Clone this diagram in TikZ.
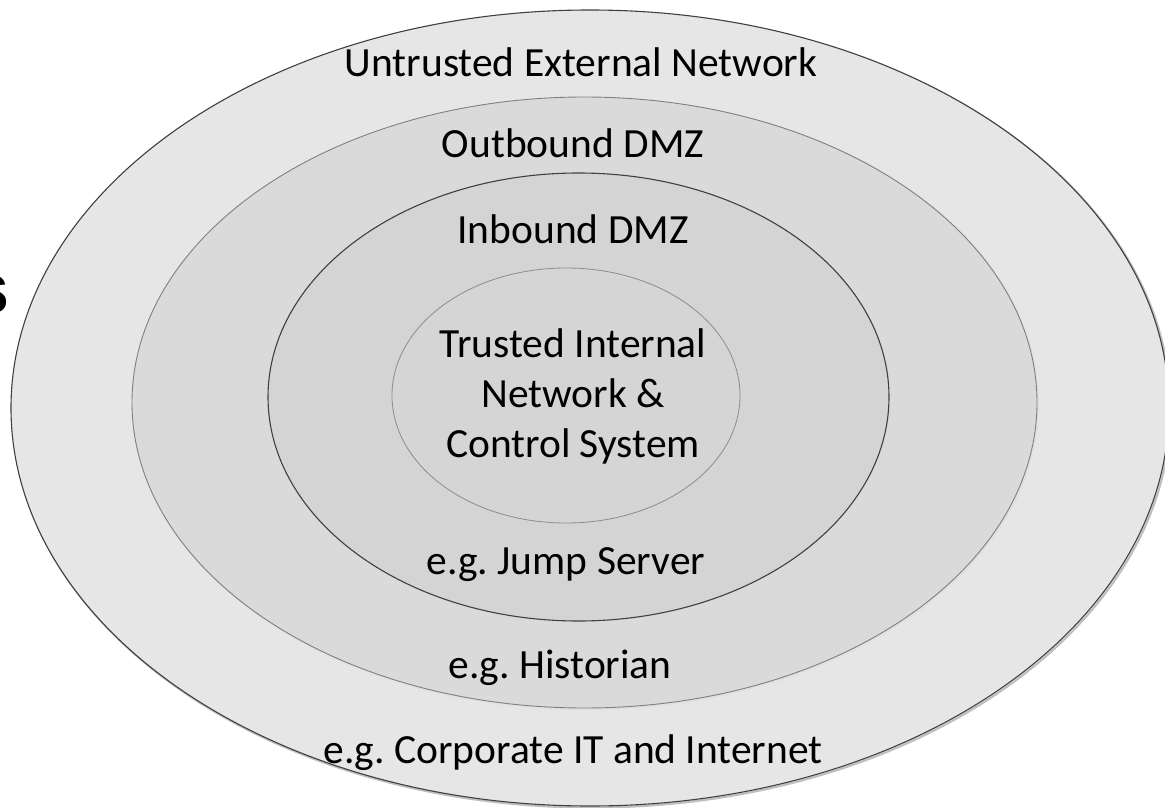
\documentclass[tikz,border=0pt]{standalone}
\usepackage{fontspec}
\setmainfont{Carlito}
\newfontfamily\boldsans{Liberation Sans}[BoldFont=* Bold]
\usetikzlibrary{shapes.geometric}
\definecolor{zoneA}{HTML}{E6E6E6}
\definecolor{zoneB}{HTML}{DADADA}
\definecolor{zoneC}{HTML}{D4D4D4}
\definecolor{zoneD}{HTML}{D5D5D5}
\tikzset{
  zone/.style={ellipse, inner sep=0pt, outer sep=0pt},
  shade/.style={draw=black!25, line width=2.2pt},
  lbl/.style={inner sep=0pt, anchor=base, align=center,
    font=\fontsize{41.5}{50}\selectfont, text=black}
}
\begin{document}
\begin{tikzpicture}[x=1pt,y=-1pt]
\useasboundingbox (0,0) rectangle (1165,808);
\fill[white] (0,0) rectangle (1165,808);
% outer zone
\draw[shade] (591.5,409.5) ellipse [x radius=579pt, y radius=398pt];
\node[zone, fill=zoneA, draw=black!75, line width=1.1pt,
  minimum width=1158pt, minimum height=796pt] (outer) at (590,408) {};
% outbound
\draw[draw=black!12, line width=2pt] (585.5,403.5) ellipse [x radius=452.5pt, y radius=305.5pt];
\node[zone, fill=zoneB, draw=black!50, line width=0.9pt,
  minimum width=905pt, minimum height=611pt] (outbound) at (584.5,402.5) {};
% inbound
\draw[draw=black!15, line width=2pt] (579.5,398) ellipse [x radius=310.5pt, y radius=224pt];
\node[zone, fill=zoneC, draw=black!75, line width=1.1pt,
  minimum width=621pt, minimum height=448pt] (inbound) at (578.5,397) {};
% inner
\node[zone, fill=zoneD, draw=black!45, line width=0.8pt,
  minimum width=348pt, minimum height=255pt] (inner) at (566,395.5) {};
% labels
\node[lbl] (untrusted) at (581,77) {Untrusted External Network};
\node[lbl] (outlbl) at (573,157) {Outbound DMZ};
\node[lbl] (inlbl) at (573,243) {Inbound DMZ};
\node[lbl] (trusted) at (573,457) {Trusted Internal\\Network \&\\Control System};
\node[lbl] (jump) at (566,574) {e.g.\ Jump Server};
\node[lbl] (historian) at (560,678) {e.g.\ Historian};
\node[lbl] (corporate) at (573,763) {e.g.\ Corporate IT and Internet};
% clipped fragment of a letter at the left edge
\begin{scope}
\clip (0,0) rectangle (1165,808);
\node[inner sep=0pt, anchor=base east, font=\boldsans\bfseries\fontsize{72}{72}\selectfont] (frag) at (10,313) {s};
\end{scope}
\end{tikzpicture}
\end{document}
